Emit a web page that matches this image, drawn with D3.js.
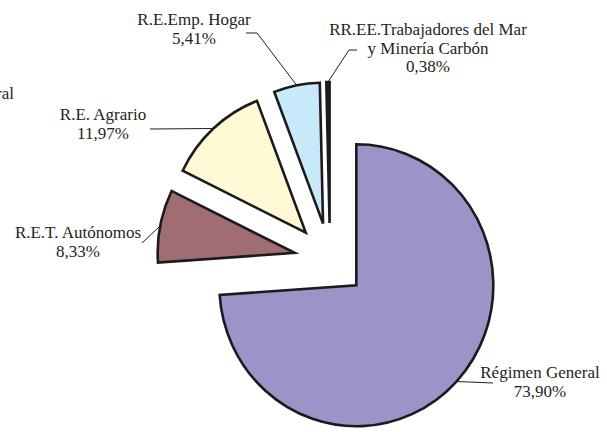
<!DOCTYPE html>
<html>
<head>
<meta charset="utf-8">
<script src="https://cdn.jsdelivr.net/npm/d3@7"></script>
<style>
  html, body { margin: 0; padding: 0; background: #fff; }
  svg { display: block; }
</style>
</head>
<body>
<svg id="chart" width="607" height="432"></svg>
<script>
// Afiliados por régimen de la Seguridad Social (porcentaje)
const regimenes = [
  "Régimen General",
  "R.E.T. Autónomos",
  "R.E. Agrario",
  "R.E.Emp. Hogar",
  "RR.EE.Trabajadores del Mar\ny Minería Carbón"
];
const porcentajes = [73.90, 8.33, 11.97, 5.41, 0.38];
const colores = ["#9b94c8", "#a06e72", "#fff9d5", "#c8e9f8", "#231f20"];

// Colocación de las etiquetas: centro del texto, primera línea base y codo de la guía
const etiquetas = [
  { x: 540, y: 378, guia: [[493, 383]] },
  { x: 78,  y: 238, guia: [[142, 243]] },
  { x: 103, y: 120, guia: [[150, 129]] },
  { x: 194, y: 25,  guia: [[246, 33], [257, 33]] },
  { x: 428, y: 35,  guia: [[357, 50], [349, 50]] }
];

const cx = 330, cy = 260;     // centro de la tarta
const rx = 137, ry = 141;     // radios horizontal y vertical
const separacion = 36;        // desplazamiento de cada porción
const fuente = "'Liberation Serif', 'Times New Roman', Tinos";

const es = d3.formatLocale({ decimal: ",", thousands: ".", grouping: [3], currency: ["", " €"] });
const fmt = es.format(".2f");

const svg = d3.select("#chart");

const pie = d3.pie().sort(null).value(d => d);
const arcos = pie(porcentajes);
const arc = d3.arc().innerRadius(0).outerRadius(rx);
const borde = d3.arc().innerRadius(rx).outerRadius(rx);
const sy = ry / rx;

function desplazamiento(d) {
  const a = (d.startAngle + d.endAngle) / 2;
  return [Math.sin(a) * separacion, -Math.cos(a) * separacion];
}

const g = svg.append("g").attr("transform", `translate(${cx},${cy}) scale(1,${sy})`);

g.selectAll("path.porcion")
  .data(arcos)
  .join("path")
  .attr("class", "porcion")
  .attr("transform", d => { const [dx, dy] = desplazamiento(d); return `translate(${dx},${dy})`; })
  .attr("d", arc)
  .attr("fill", (d, i) => colores[i])
  .attr("stroke", "#1c1a1b")
  .attr("stroke-width", 2.6)
  .attr("stroke-linejoin", "miter")
  .attr("vector-effect", "non-scaling-stroke");

// Guías desde el texto hasta el borde de cada porción
const linea = d3.line();
arcos.forEach((d, i) => {
  const [dx, dy] = desplazamiento(d);
  const [bx, by] = borde.centroid(d);
  const fin = [cx + bx + dx, cy + (by + dy) * sy];
  svg.append("path")
    .attr("d", linea([...etiquetas[i].guia, fin]))
    .attr("fill", "none")
    .attr("stroke", "#231f20")
    .attr("stroke-width", 1);
});

// Textos
arcos.forEach((d, i) => {
  const lineas = regimenes[i].split("\n").concat([fmt(porcentajes[i]) + "%"]);
  const t = svg.append("text")
    .attr("text-anchor", "middle")
    .attr("x", etiquetas[i].x)
    .attr("y", etiquetas[i].y);
  lineas.forEach((s, k) => {
    t.append("tspan")
      .attr("font-family", fuente)
      .attr("font-size", 17)
      .attr("fill", "#231f20")
      .attr("x", etiquetas[i].x)
      .attr("dy", k === 0 ? 0 : 18.7)
      .text(s);
  });
});

// Resto de un rótulo que queda cortado en el borde izquierdo
svg.append("text")
  .attr("font-family", fuente)
  .attr("font-size", 17)
  .attr("fill", "#231f20")
  .attr("text-anchor", "end")
  .attr("x", 14)
  .attr("y", 99)
  .text("ral");
</script>
</body>
</html>
